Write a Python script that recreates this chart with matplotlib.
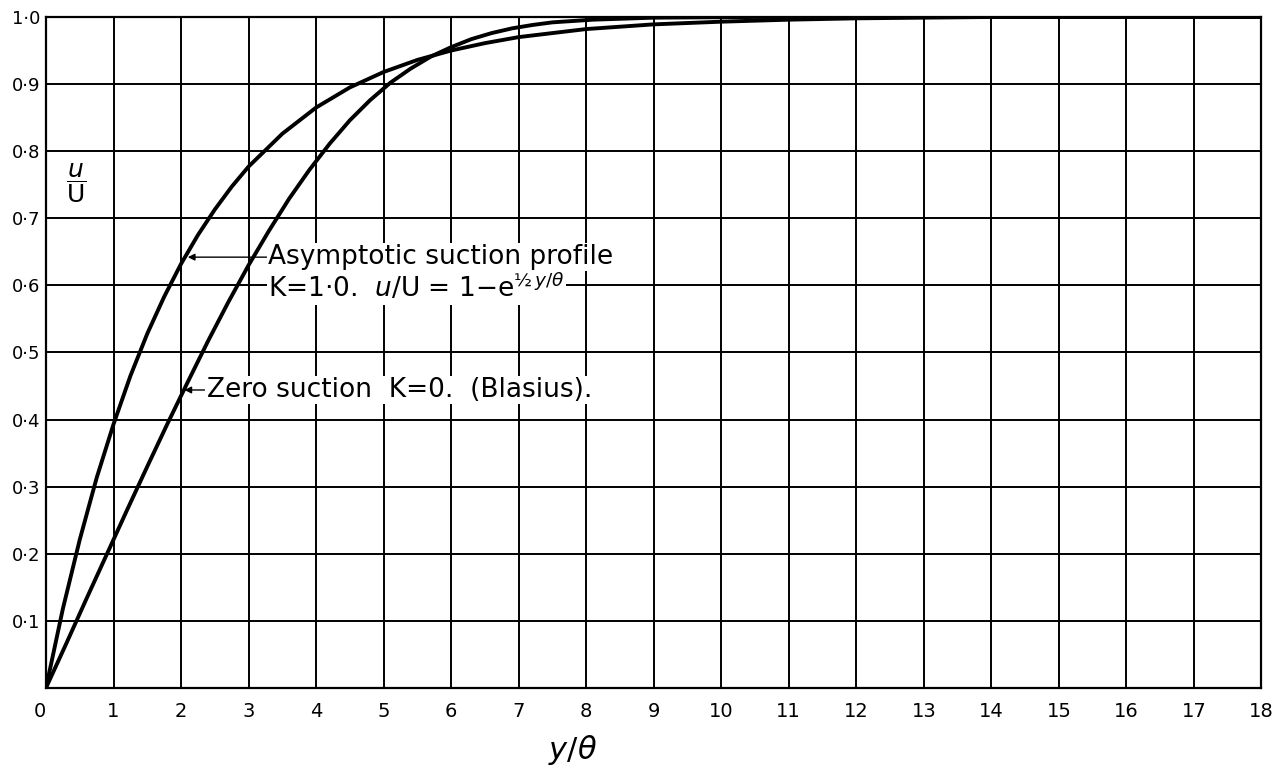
import numpy as np
import matplotlib
matplotlib.use('Agg')
import matplotlib.pyplot as plt

# values (y/theta, u/U)
y_theta_suction = [0, 0.25, 0.5, 0.75, 1, 1.25, 1.5, 1.75, 2, 2.25, 2.5, 2.75, 3, 3.5, 4, 4.5,
                   5, 5.5, 6, 6.5, 7, 7.5, 8, 9, 10, 11, 12, 13, 14, 18]
u_suction = [0, 0.118, 0.221, 0.313, 0.393, 0.465, 0.528, 0.583, 0.632, 0.675, 0.713, 0.747,
             0.777, 0.826, 0.865, 0.895, 0.918, 0.936, 0.950, 0.961, 0.970, 0.976, 0.982,
             0.989, 0.993, 0.996, 0.998, 0.999, 1.0, 1.0]

y_theta_blasius = [0, 0.3, 0.6, 0.9, 1.2, 1.5, 1.8, 2.1, 2.4, 2.7, 3.0, 3.3, 3.6, 3.9, 4.2,
                   4.5, 4.8, 5.1, 5.4, 5.7, 6.0, 6.3, 6.6, 6.9, 7.2, 7.5, 8.1, 9.0, 10.5, 18]
u_blasius = [0, 0.066, 0.133, 0.199, 0.265, 0.330, 0.394, 0.456, 0.517, 0.575, 0.630, 0.681,
             0.729, 0.772, 0.811, 0.846, 0.876, 0.902, 0.923, 0.941, 0.955, 0.967, 0.976,
             0.983, 0.988, 0.992, 0.996, 0.999, 1.0, 1.0]

x_ticks = list(range(0, 19))
x_labels = [str(i) for i in range(0, 19)]
y_ticks = [round(0.1 * i, 1) for i in range(1, 11)]
y_labels = ['0·1', '0·2', '0·3', '0·4', '0·5', '0·6', '0·7', '0·8', '0·9', '1·0']

fig = plt.figure(figsize=(12.78, 7.72), dpi=100)
ax = fig.add_axes([0.036, 0.109, 0.951, 0.869])

ax.set_xlim(0, 18)
ax.set_ylim(0, 1.0)
ax.set_xticks(x_ticks)
ax.set_xticklabels(x_labels, fontsize=14)
ax.set_yticks(y_ticks)
ax.set_yticklabels(y_labels, fontsize=13)
ax.tick_params(length=0, pad=10)
ax.tick_params(axis='y', pad=4)
ax.get_xticklabels()[0].set_ha('right')
ax.grid(True, color='black', lw=1.4)
ax.set_axisbelow(True)
for s in ax.spines.values():
    s.set_linewidth(1.6)

ax.plot(y_theta_suction, u_suction, color='black', lw=2.8, zorder=3,
        solid_joinstyle='round', solid_capstyle='round')
ax.plot(y_theta_blasius, u_blasius, color='black', lw=2.8, zorder=3,
        solid_joinstyle='round', solid_capstyle='round')

box = dict(facecolor='white', edgecolor='none', pad=1)
fs = 19
arrow = dict(arrowstyle='-|>', color='black', lw=1.0, shrinkA=0, shrinkB=0, mutation_scale=10)
ax.annotate('Asymptotic suction profile', xy=(2.1, 0.642), xytext=(3.29, 0.642),
            fontsize=fs, va='center', ha='left', bbox=box, zorder=4, arrowprops=arrow)
ax.text(3.29, 0.596, r'K=1·0.  $u$/U = 1−e$^{½\,y/\theta}$', fontsize=fs,
        va='center', ha='left', bbox=box, zorder=4)
ax.annotate('Zero suction  K=0.  (Blasius).', xy=(2.05, 0.444), xytext=(2.38, 0.444),
            fontsize=fs, va='center', ha='left', bbox=box, zorder=4, arrowprops=arrow)

ax.text(0.45, 0.752, r'$\dfrac{u}{\mathrm{U}}$', fontsize=18, ha='center', va='center', zorder=4)
ax.text(7.8, -0.092, r'$y/\theta$', fontsize=22, ha='center', va='center', clip_on=False)

fig.savefig('out.png', dpi=100)
